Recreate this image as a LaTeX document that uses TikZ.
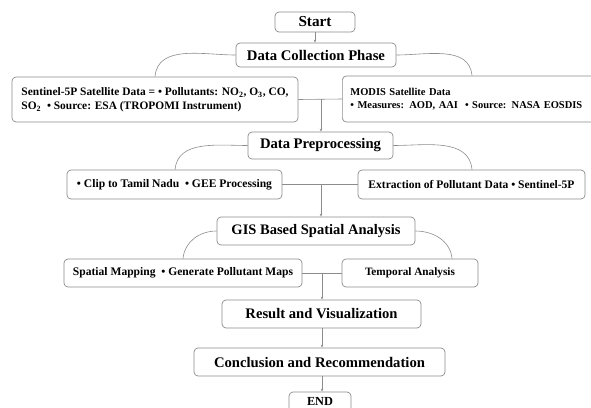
\documentclass[tikz,border=0pt]{standalone}
\usepackage{fontspec}
\usepackage{graphicx}
\setmainfont{Liberation Serif}
\usetikzlibrary{arrows.meta}
\definecolor{edge}{RGB}{140,140,140}
\newcommand{\fitw}[2]{\resizebox{#1pt}{!}{#2}}
\tikzset{
  box/.style={draw=edge, line width=0.7pt, rounded corners=4pt, fill=white, inner sep=0pt, font=\bfseries},
  head/.style={box, font=\fontsize{13}{15}\selectfont\bfseries},
  sub/.style={box, font=\fontsize{10}{13}\selectfont\bfseries},
  link/.style={draw=edge, line width=0.6pt},
  arr/.style={link, -{Stealth[length=3pt,width=2.5pt]}},
}
\begin{document}
\begin{tikzpicture}[x=1pt,y=-1pt]
\useasboundingbox (0,0) rectangle (591,407);
\clip (0,0) rectangle (591,407);
% main phases
\node[head, minimum width=80pt, minimum height=20pt] (start) at (315,22) {\fitw{33}{Start}};
\node[head, minimum width=160pt, minimum height=24pt] (dc) at (316,55) {\fitw{138}{Data Collection Phase}};
\node[sub, minimum width=286pt, minimum height=45pt] (sen) at (155,99.5)
  {\fitw{267}{\begin{tabular}{@{}l@{}}Sentinel-5P Satellite Data = • Pollutants: NO\textsubscript{2}, O\textsubscript{3}, CO,\\[-1pt]SO\textsubscript{2}\ \ • Source: ESA (TROPOMI Instrument)\end{tabular}}};
\node[sub, minimum height=46pt, anchor=west, inner xsep=8pt, text width=252pt, align=left] (mod) at (342,99)
  {\fitw{232}{\begin{tabular}{@{}l@{}}MODIS Satellite Data\\[-1pt]• Measures: AOD, AAI\ \ • Source: NASA EOSDIS\end{tabular}}};
\node[head, minimum width=145pt, minimum height=27pt] (dp) at (320.5,145.5) {\fitw{121}{Data Preprocessing}};
\node[sub, minimum width=215pt, minimum height=29pt] (clip) at (174.5,184.5) {\fitw{195}{• Clip to Tamil Nadu\ \ • GEE Processing}};
\node[sub, minimum width=227pt, minimum height=29pt] (ext) at (471.5,184.5) {\fitw{206}{Extraction of Pollutant Data • Sentinel-5P}};
\node[head, minimum width=198pt, minimum height=28pt] (gis) at (316,231) {\fitw{169}{GIS Based Spatial Analysis}};
\node[sub, minimum width=238pt, minimum height=28pt] (map) at (183,273) {\fitw{220}{Spatial Mapping\ \ • Generate Pollutant Maps}};
\node[sub, minimum width=136pt, minimum height=28pt] (temp) at (410,273) {\fitw{90}{Temporal Analysis}};
\node[head, minimum width=199pt, minimum height=28pt] (res) at (321.5,314) {\fitw{152}{Result and Visualization}};
\node[head, minimum width=251pt, minimum height=28pt] (conc) at (319.5,362) {\fitw{211}{Conclusion and Recommendation}};
\node[box, font=\fontsize{10}{12}\selectfont\bfseries, minimum width=62pt, minimum height=22pt] (end) at (320,403) {\raisebox{3pt}{\fitw{26}{END}}};
% junction points
\coordinate (j1) at (321,99);
\coordinate (j2) at (321,185);
\coordinate (j3) at (322,273);
% connectors
\draw[arr] (start.south) -- (dc.north -| start.south);
\draw[link] (dc.west) to[out=180,in=85] (sen.north -| 155,0);
\draw[link] (dc.east) to[out=0,in=95] (mod.north -| 472,0);
\draw[link] (sen.east) -- (mod.west);
\draw[arr] (j1) -- (dp.north -| j1);
\draw[link] (dp.west) to[out=180,in=85] (clip.north -| 175,0);
\draw[link] (dp.east) to[out=0,in=95] (ext.north -| 472,0);
\draw[link] (clip.east) -- (ext.west);
\draw[arr] (j2) -- (gis.north -| j2);
\draw[link] (gis.west) to[out=180,in=85] (map.north -| 183,0);
\draw[link] (gis.east) to[out=0,in=95] (temp.north -| 452,0);
\draw[link] (map.east) -- (temp.west);
\draw[arr] (j3) -- (res.north -| j3);
\draw[arr] (res.south -| j3) -- (conc.north -| j3);
\draw[arr] (conc.south -| j3) -- (end.north -| j3);
\end{tikzpicture}
\end{document}
